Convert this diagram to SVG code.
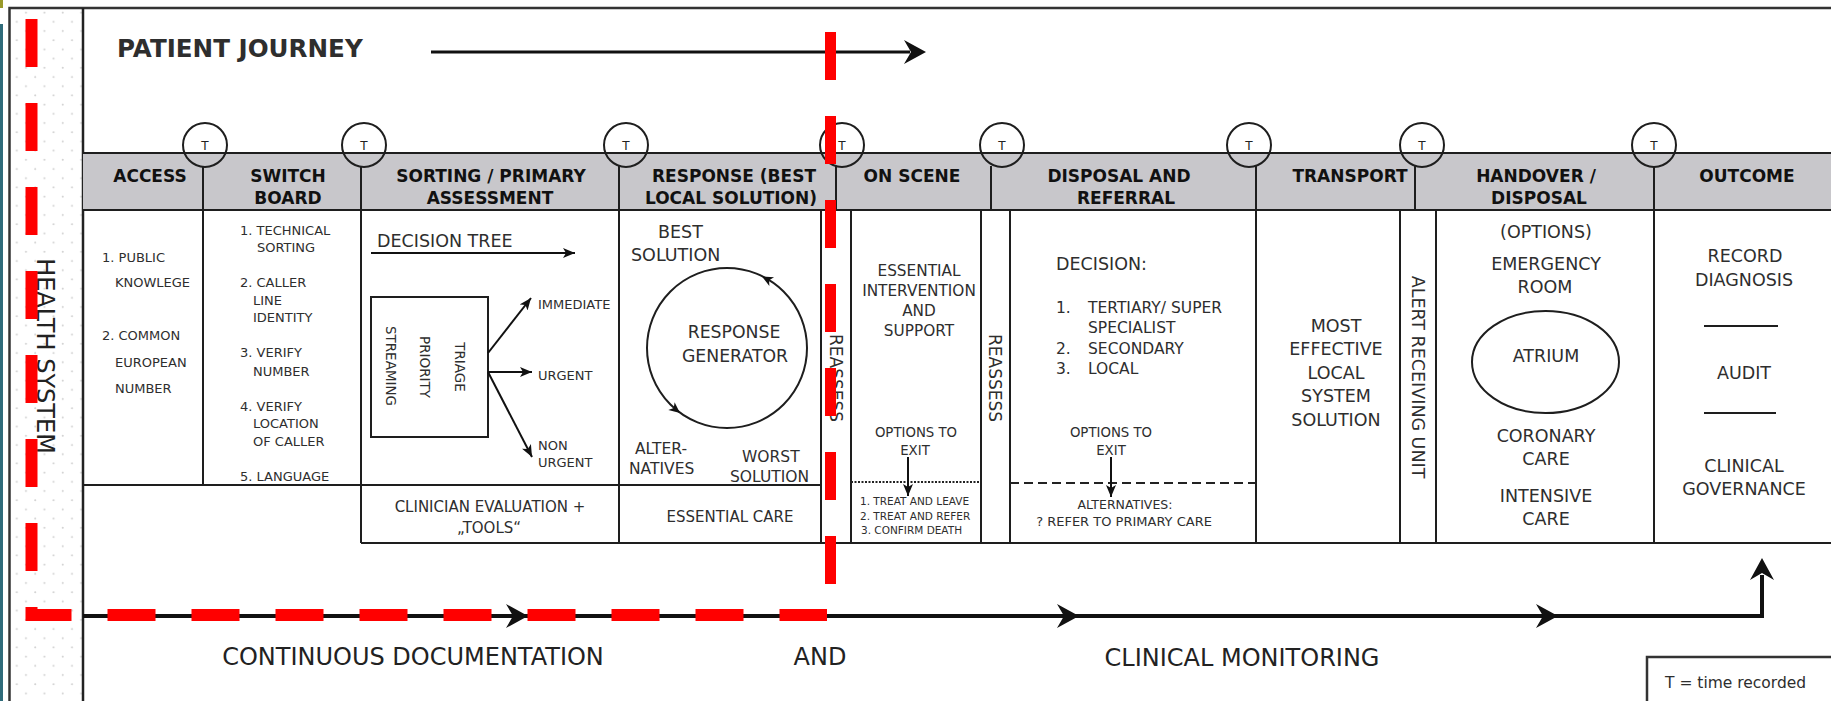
<svg xmlns="http://www.w3.org/2000/svg" width="1831" height="701" viewBox="0 0 1831 701">
<defs>
<style>
text{font-family:"DejaVu Sans","Liberation Sans",sans-serif;fill:#2e2e2e}
.h{font-weight:bold;font-size:17px;fill:#111;text-anchor:middle}
.m{text-anchor:middle}
.ln{stroke:#1e1e1e;stroke-width:2;fill:none}
.thin{stroke:#1e1e1e;stroke-width:1.6;fill:none}
.red{stroke:#ff0000;stroke-width:12;fill:none;stroke-dasharray:48 36}
.t{font-size:12px;text-anchor:middle;fill:#222}
.f13{font-size:13px}
.f15{font-size:15.3px}
.f17{font-size:17.5px}
.big{font-size:24px;fill:#222}
.ah{fill:#111}
</style>
<pattern id="dots" patternUnits="userSpaceOnUse" x="3" y="8" width="18.4" height="18.4">
<circle cx="4.6" cy="4.6" r="1" fill="#cfcfcf"/>
<circle cx="13.8" cy="13.8" r="1" fill="#cfcfcf"/>
</pattern>
<marker id="sa" markerUnits="userSpaceOnUse" markerWidth="14" markerHeight="12" refX="12" refY="5" orient="auto">
<path d="M0,0 L12,5 L0,10 L3,5 Z" fill="#111"/>
</marker>
<path id="notch" d="M0,0 L-22,-12 L-15,0 L-22,12 Z"/>
<path id="tri" d="M0,0 L-11,-5 L-8,0 L-11,5 Z"/>
</defs>

<rect width="1831" height="701" fill="#ffffff"/>
<!-- page edge marks -->
<rect x="0" y="0" width="3" height="8" fill="#9a9a2a"/>
<rect x="0" y="24" width="3" height="677" fill="#2f6b7a"/>

<!-- frame and health system strip -->
<g id="health-system">
<rect x="10" y="9" width="72" height="692" fill="url(#dots)"/>
<path d="M9.5 701 V8 H1831" stroke="#333" stroke-width="2.5" fill="none"/>
<line x1="83" y1="8" x2="83" y2="701" stroke="#222" stroke-width="2.5"/>
<text class="big" transform="translate(46,356) rotate(90)" text-anchor="middle" y="8.6">HEALTH SYSTEM</text>
</g>

<g id="patient-journey">
<text x="117" y="57" font-size="24.6" font-weight="bold" fill="#111">PATIENT JOURNEY</text>
</g>

<!-- header band -->
<g id="header-band">
<rect x="83" y="153" width="1748" height="57" fill="#c8c7cb"/>
<line class="ln" x1="83" y1="153" x2="1831" y2="153"/>
<line class="ln" x1="83" y1="210" x2="1831" y2="210"/>
</g>

<g id="col-access">
<text class="h" x="150" y="182">ACCESS</text>
<text class="f13" x="102" y="262">1. PUBLIC</text>
<text class="f13" x="115" y="287">KNOWLEGE</text>
<text class="f13" x="102" y="340">2. COMMON</text>
<text class="f13" x="115" y="367">EUROPEAN</text>
<text class="f13" x="115" y="393">NUMBER</text>
</g>

<g id="col-switchboard">
<line class="ln" x1="203" y1="166" x2="203" y2="485"/>
<text class="h" x="288" y="182">SWITCH</text>
<text class="h" x="288" y="204">BOARD</text>
<text class="f13" x="240" y="235">1. TECHNICAL</text>
<text class="f13" x="257" y="252">SORTING</text>
<text class="f13" x="240" y="287">2. CALLER</text>
<text class="f13" x="253" y="305">LINE</text>
<text class="f13" x="253" y="322">IDENTITY</text>
<text class="f13" x="240" y="357">3. VERIFY</text>
<text class="f13" x="253" y="376">NUMBER</text>
<text class="f13" x="240" y="411">4. VERIFY</text>
<text class="f13" x="253" y="428">LOCATION</text>
<text class="f13" x="253" y="446">OF CALLER</text>
<text class="f13" x="240" y="481">5. LANGUAGE</text>
</g>

<g id="col-sorting">
<line class="ln" x1="361" y1="166" x2="361" y2="543"/>
<text class="h" x="491" y="182">SORTING / PRIMARY</text>
<text class="h" x="490" y="204">ASSESSMENT</text>
<text x="377" y="247" font-size="17.5">DECISION TREE</text>
<rect class="ln" x="371" y="297" width="117" height="140"/>
<text class="m" transform="translate(460,367) rotate(90)" y="4.9" font-size="13.5">TRIAGE</text>
<text class="m" transform="translate(425,367) rotate(90)" y="4.9" font-size="13.5">PRIORITY</text>
<text class="m" transform="translate(391,366) rotate(90)" y="4.9" font-size="13.5">STREAMING</text>
<text class="f13" x="538" y="309">IMMEDIATE</text>
<text class="f13" x="538" y="380">URGENT</text>
<text class="f13" x="538" y="450">NON</text>
<text class="f13" x="538" y="467">URGENT</text>
<text class="m" x="490" y="512" font-size="15">CLINICIAN EVALUATION +</text>
<text class="m" x="489" y="533" font-size="15">„TOOLS“</text>
</g>

<g id="col-response">
<line class="ln" x1="619" y1="166" x2="619" y2="543"/>
<text class="h" x="734" y="182">RESPONSE (BEST</text>
<text class="h" x="731" y="204">LOCAL SOLUTION)</text>
<text x="658" y="238" font-size="17.5">BEST</text>
<text x="631" y="261" font-size="17.5">SOLUTION</text>
<circle class="ln" cx="727" cy="348" r="80"/>
<use href="#tri" class="ah" transform="translate(762,276.5) rotate(208)"/>
<use href="#tri" class="ah" transform="translate(680,413) rotate(39)"/>
<text class="m" x="734" y="338" font-size="17.3">RESPONSE</text>
<text class="m" x="735" y="362" font-size="17.3">GENERATOR</text>
<text x="635" y="454" font-size="15.5">ALTER-</text>
<text x="629" y="474" font-size="15.5">NATIVES</text>
<text x="742" y="462" font-size="15.5">WORST</text>
<text x="730" y="482" font-size="15.5">SOLUTION</text>
<text class="m" x="730" y="522" font-size="15">ESSENTIAL CARE</text>
</g>

<g id="reassess-1">
<line class="ln" x1="821" y1="210" x2="821" y2="543"/>
<line class="ln" x1="836" y1="166" x2="836" y2="210"/>
<text class="m" transform="translate(836,378) rotate(90)" y="6.1" font-size="17">REASSESS</text>
</g>

<g id="col-onscene">
<line class="ln" x1="851" y1="210" x2="851" y2="543"/>
<text class="h" x="912" y="182">ON SCENE</text>
<text class="m f15" x="919" y="276">ESSENTIAL</text>
<text class="m f15" x="919" y="296">INTERVENTION</text>
<text class="m f15" x="919" y="316">AND</text>
<text class="m f15" x="919" y="336">SUPPORT</text>
<text class="m" x="916" y="437" font-size="13.3">OPTIONS TO</text>
<text class="m" x="915" y="455" font-size="13.3">EXIT</text>
<line x1="851" y1="482" x2="981" y2="482" stroke="#222" stroke-width="2" stroke-dasharray="2 1.5"/>
<text x="860" y="505" font-size="10.5">1. TREAT AND LEAVE</text>
<text x="860" y="520" font-size="10.5">2. TREAT AND REFER</text>
<text x="861" y="534" font-size="10.5">3. CONFIRM DEATH</text>
</g>

<g id="reassess-2">
<line class="ln" x1="981" y1="210" x2="981" y2="543"/>
<line class="ln" x1="991" y1="166" x2="991" y2="210"/>
<text class="m" transform="translate(995,378) rotate(90)" y="6.1" font-size="17">REASSESS</text>
</g>

<g id="col-disposal">
<line class="ln" x1="1010" y1="210" x2="1010" y2="543"/>
<text class="h" x="1119" y="182">DISPOSAL AND</text>
<text class="h" x="1126" y="204">REFERRAL</text>
<text x="1056" y="270" font-size="17.5">DECISION:</text>
<text x="1056" y="313" font-size="15.5">1.</text>
<text x="1088" y="313" font-size="15.5">TERTIARY/ SUPER</text>
<text x="1088" y="333" font-size="15.5">SPECIALIST</text>
<text x="1056" y="354" font-size="15.5">2.</text>
<text x="1088" y="354" font-size="15.5">SECONDARY</text>
<text x="1056" y="374" font-size="15.5">3.</text>
<text x="1088" y="374" font-size="15.5">LOCAL</text>
<text class="m" x="1111" y="437" font-size="13.3">OPTIONS TO</text>
<text class="m" x="1111" y="455" font-size="13.3">EXIT</text>
<line x1="1010" y1="483" x2="1256" y2="483" stroke="#222" stroke-width="2" stroke-dasharray="9 5"/>
<text class="m" x="1125" y="509" font-size="12.5">ALTERNATIVES:</text>
<text class="m" x="1124" y="526" font-size="13">? REFER TO PRIMARY CARE</text>
</g>

<g id="col-transport">
<line class="ln" x1="1256" y1="166" x2="1256" y2="543"/>
<text class="h" x="1350" y="182">TRANSPORT</text>
<text class="m f17" x="1336" y="332">MOST</text>
<text class="m f17" x="1336" y="355">EFFECTIVE</text>
<text class="m f17" x="1336" y="379">LOCAL</text>
<text class="m f17" x="1336" y="402">SYSTEM</text>
<text class="m f17" x="1336" y="426">SOLUTION</text>
</g>

<g id="alert-receiving-unit">
<line class="ln" x1="1400" y1="210" x2="1400" y2="543"/>
<line class="ln" x1="1415" y1="166" x2="1415" y2="210"/>
<text class="m" transform="translate(1418,377) rotate(90)" y="6.3" font-size="17.5">ALERT RECEIVING UNIT</text>
</g>

<g id="col-handover">
<line class="ln" x1="1436" y1="210" x2="1436" y2="543"/>
<text class="h" x="1536" y="182">HANDOVER /</text>
<text class="h" x="1539" y="204">DISPOSAL</text>
<text class="m f17" x="1546" y="238">(OPTIONS)</text>
<text class="m f17" x="1546" y="270">EMERGENCY</text>
<text class="m f17" x="1545" y="293">ROOM</text>
<ellipse class="ln" cx="1545.5" cy="362" rx="73.5" ry="51"/>
<text class="m f17" x="1546" y="362">ATRIUM</text>
<text class="m f17" x="1546" y="442">CORONARY</text>
<text class="m f17" x="1546" y="465">CARE</text>
<text class="m f17" x="1546" y="502">INTENSIVE</text>
<text class="m f17" x="1546" y="525">CARE</text>
</g>

<g id="col-outcome">
<line class="ln" x1="1654" y1="166" x2="1654" y2="543"/>
<text class="h" x="1747" y="182">OUTCOME</text>
<text class="m f17" x="1745" y="262">RECORD</text>
<text class="m f17" x="1744" y="286">DIAGNOSIS</text>
<line class="ln" x1="1704" y1="326" x2="1778" y2="326"/>
<text class="m f17" x="1744" y="379">AUDIT</text>
<line class="ln" x1="1704" y1="413" x2="1776" y2="413"/>
<text class="m f17" x="1744" y="472">CLINICAL</text>
<text class="m f17" x="1744" y="495">GOVERNANCE</text>
</g>

<!-- table rule lines -->
<g id="table-rules">
<line class="ln" x1="83" y1="485" x2="821" y2="485"/>
<line class="ln" x1="361" y1="543" x2="1831" y2="543"/>
</g>

<g id="time-markers">
<g id="t1"><circle class="ln" cx="205" cy="145" r="22" fill="#fff"/><text class="t" x="205" y="150">T</text></g>
<g id="t2"><circle class="ln" cx="364" cy="145" r="22" fill="#fff"/><text class="t" x="364" y="150">T</text></g>
<g id="t3"><circle class="ln" cx="626" cy="145" r="22" fill="#fff"/><text class="t" x="626" y="150">T</text></g>
<g id="t4"><circle class="ln" cx="842" cy="145" r="22" fill="#fff"/><text class="t" x="842" y="150">T</text></g>
<g id="t5"><circle class="ln" cx="1002" cy="145" r="22" fill="#fff"/><text class="t" x="1002" y="150">T</text></g>
<g id="t6"><circle class="ln" cx="1249" cy="145" r="22" fill="#fff"/><text class="t" x="1249" y="150">T</text></g>
<g id="t7"><circle class="ln" cx="1422" cy="145" r="22" fill="#fff"/><text class="t" x="1422" y="150">T</text></g>
<g id="t8"><circle class="ln" cx="1654" cy="145" r="22" fill="#fff"/><text class="t" x="1654" y="150">T</text></g>
</g>

<g id="connectors">
<line x1="431" y1="52" x2="910" y2="52" stroke="#111" stroke-width="3"/>
<use href="#notch" class="ah" transform="translate(926,52)"/>
<line x1="371" y1="253" x2="575" y2="253" stroke="#111" stroke-width="2" marker-end="url(#sa)"/>
<line x1="488" y1="353" x2="531" y2="298" stroke="#111" stroke-width="2" marker-end="url(#sa)"/>
<line x1="488" y1="372" x2="532" y2="372" stroke="#111" stroke-width="2" marker-end="url(#sa)"/>
<line x1="488" y1="372" x2="532" y2="457" stroke="#111" stroke-width="2" marker-end="url(#sa)"/>
<line x1="908" y1="457" x2="908" y2="496" stroke="#111" stroke-width="2" marker-end="url(#sa)"/>
<line x1="1111" y1="457" x2="1111" y2="497" stroke="#111" stroke-width="2" marker-end="url(#sa)"/>
<polyline points="83,616 1762,616 1762,575" stroke="#111" stroke-width="4" fill="none"/>
<use href="#notch" class="ah" transform="translate(528,616)"/>
<use href="#notch" class="ah" transform="translate(1079,616)"/>
<use href="#notch" class="ah" transform="translate(1558,616)"/>
<use href="#notch" class="ah" transform="translate(1762,558) rotate(-90)"/>
</g>

<g id="bottom-labels">
<text class="m big" x="413" y="665">CONTINUOUS DOCUMENTATION</text>
<text class="m big" x="820" y="665">AND</text>
<text class="m big" x="1242" y="666">CLINICAL MONITORING</text>
</g>

<g id="legend">
<rect x="1647" y="657" width="200" height="60" fill="#fff" stroke="#333" stroke-width="2.5"/>
<text x="1665" y="688" font-size="15.5" fill="#222">T = time recorded</text>
</g>

<g id="red-markup">
<path class="red" d="M31.5 19 V615 H827"/>
<path class="red" d="M830.5 32 V584" style="stroke-width:11"/>
</g>
</svg>
